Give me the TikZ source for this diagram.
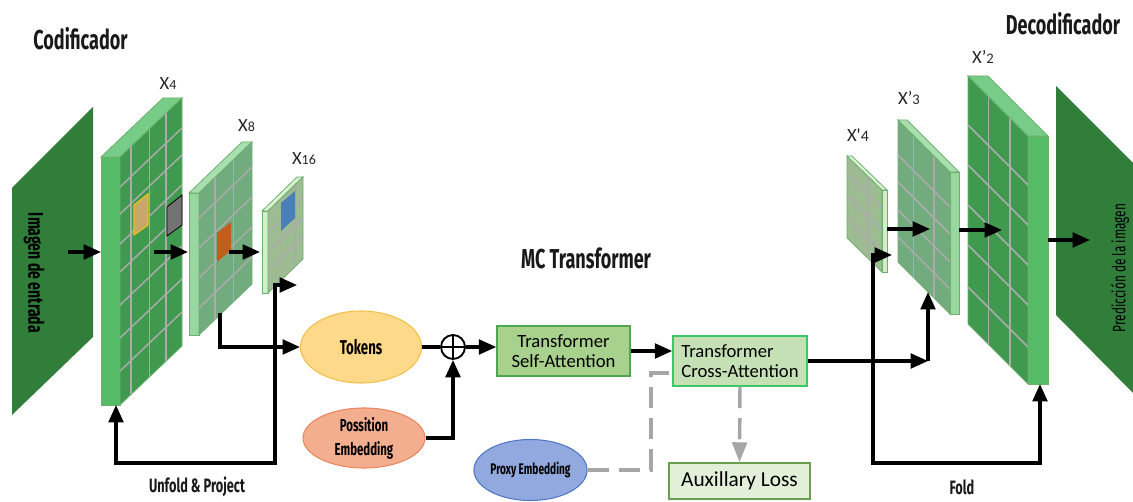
\documentclass[tikz,border=0pt]{standalone}
\usepackage{fontspec}
\setmainfont{Carlito}
\newfontfamily\plaincarlito{Carlito}
\newfontfamily\headfont[FakeStretch=0.66]{Fira Sans}
\usetikzlibrary{arrows.meta,shapes.geometric}

% palette
\definecolor{imggreen}{HTML}{317D3A}
\definecolor{slabAface}{HTML}{3F9A4F}
\definecolor{slabAstrip}{HTML}{55BB66}
\definecolor{slabAtop}{HTML}{77CC88}
\definecolor{slabBface}{HTML}{72AC7E}
\definecolor{slabBstrip}{HTML}{98D8A0}
\definecolor{slabBtop}{HTML}{A9DEB0}
\definecolor{slabCface}{HTML}{9EBC91}
\definecolor{slabCstrip}{HTML}{D3EDC8}
\definecolor{slabCtop}{HTML}{DAF0D2}
\definecolor{slabedge}{HTML}{6BB06B}
\definecolor{gridgray}{HTML}{ABABAB}
\definecolor{patchtan}{HTML}{C9A66B}
\definecolor{patchtanedge}{HTML}{E9C21A}
\definecolor{patchorange}{HTML}{C25E1C}
\definecolor{patchblue}{HTML}{4A7FB8}
\definecolor{tokfill}{HTML}{FFD98A}
\definecolor{tokedge}{HTML}{F2C04A}
\definecolor{posfill}{HTML}{F2AE8F}
\definecolor{posedge}{HTML}{E8875E}
\definecolor{proxfill}{HTML}{91A9DE}
\definecolor{proxedge}{HTML}{5276C4}
\definecolor{selffill}{HTML}{A9D18E}
\definecolor{selfedge}{HTML}{4EA64E}
\definecolor{crossfill}{HTML}{C5E0B4}
\definecolor{crossedge}{HTML}{3CC864}
\definecolor{auxfill}{HTML}{E2F0D9}
\definecolor{auxedge}{HTML}{6A9F50}
\definecolor{dashgray}{HTML}{A6A6A6}

\tikzset{
  >={Triangle[length=13pt,width=11pt]},
  conn/.style={line width=2.3pt,black},
  gridline/.style={gridgray,line width=1.1pt},
  slabline/.style={line width=0.6pt},
  dashconn/.style={dashgray,line width=2.6pt,dash pattern=on 16pt off 7.5pt},
  ovalbox/.style={ellipse,draw,line width=0.8pt,inner sep=0pt,font=\headfont\bfseries},
  stagebox/.style={rectangle,draw,line width=1.1pt,inner sep=0pt},
  heading/.style={font=\headfont\bfseries\fontsize{20.5}{22}\selectfont,text=black!90},
  caption/.style={font=\headfont\bfseries\fontsize{14.5}{16}\selectfont,text=black!90},
  maplabel/.style={font=\fontsize{14}{15}\selectfont,text=black!85,inner sep=0pt},
}

% encoder slab: thin strip on the left, grid face leaning up to the right
% #1 strip left x, #2 face left x, #3 face right x, #4 top y, #5 bottom y,
% #6 rise of the face, #7 colour set, #8 column fractions, #9 row offsets
\newcommand\encslab[9]{%
  \filldraw[slab#7strip,draw=slabedge,slabline] (#1,#4) rectangle (#2,#5);
  \filldraw[slab#7top,draw=slabedge,slabline] (#1,#4) -- ({#3-(#2-#1)},{#4-#6}) -- (#3,{#4-#6}) -- (#2,#4) -- cycle;
  \filldraw[slab#7face,draw=slabedge,slabline] (#2,#4) -- (#3,{#4-#6}) -- (#3,{#5-#6}) -- (#2,#5) -- cycle;
  \foreach \f in {#8} \draw[gridline] ({#2+\f*(#3-#2)},{#4-#6*\f}) -- ({#2+\f*(#3-#2)},{#5-#6*\f});
  \foreach \s in {#9} \draw[gridline] (#2,{#4+\s}) -- (#3,{#4-#6+\s});
}
% decoder slab: grid face leaning down to the right, thin strip on the right
% #1 face left x, #2 face right x, #3 strip right x, #4 top y, #5 bottom y,
% #6 drop of the face, #7 colour set, #8 column fractions, #9 row offsets
\newcommand\decslab[9]{%
  \filldraw[slab#7face,draw=slabedge,slabline] (#1,#4) -- (#2,{#4+#6}) -- (#2,{#5+#6}) -- (#1,#5) -- cycle;
  \foreach \f in {#8} \draw[gridline] ({#1+\f*(#2-#1)},{#4+#6*\f}) -- ({#1+\f*(#2-#1)},{#5+#6*\f});
  \foreach \s in {#9} \draw[gridline] (#1,{#4+\s}) -- (#2,{#4+#6+\s});
  \filldraw[slab#7strip,draw=slabedge,slabline] (#2,{#4+#6}) rectangle (#3,{#5+#6});
  \filldraw[slab#7top,draw=slabedge,slabline] (#1,#4) -- ({#1+#3-#2},#4) -- (#3,{#4+#6}) -- (#2,{#4+#6}) -- cycle;
}

\begin{document}
\begin{tikzpicture}[x=0.75pt,y=-0.75pt]
\useasboundingbox (0,0) rectangle (1133,502);

% ---------- headings ----------
\node[heading] (enctitle) at (80.5,39) {Codificador};
\node[heading] (dectitle) at (1063,24) {Decodificador};
\node[heading] (mctitle) at (586,258) {MC Transformer};

% ---------- input image ----------
\fill[imggreen] (12,188) -- (93,107) -- (93,337) -- (12,415) -- cycle;
\node[rotate=-90,font=\headfont\bfseries\fontsize{16}{18}\selectfont] (inlabel) at (34,273) {Imagen de entrada};

% ---------- encoder feature maps ----------
\encslab{101}{120}{182}{157}{405}{59}{A}{0.18,0.48,0.74}{30,57,87,115,148,181,214}
\filldraw[fill=patchtan,draw=patchtanedge,line width=0.9pt] (134,205) -- (148,194) -- (148,225) -- (134,235) -- cycle;
\filldraw[fill=black!55,draw=black,line width=0.6pt] (167,207) -- (182,195) -- (182,225) -- (167,236) -- cycle;

\encslab{189}{199}{252}{193}{335}{51}{B}{0.3,0.65}{25,55,85,115}
\fill[patchorange] (217,233) -- (231,222) -- (231,250) -- (217,262) -- cycle;

\encslab{262}{268}{303}{211}{293}{34}{C}{0.38,0.77}{21,41,60}
\fill[patchblue] (281,203) -- (295,191) -- (295,218) -- (281,231) -- cycle;

\node[maplabel] (lx4) at (168,84) {X{\fontsize{10.5}{11}\selectfont 4}};
\node[maplabel] (lx8) at (246.5,126) {X{\fontsize{10.5}{11}\selectfont 8}};
\node[maplabel] (lx16) at (304,158.5) {X{\fontsize{10.5}{11}\selectfont 16}};

% ---------- decoder feature maps ----------
\decslab{847}{882}{887}{156}{238}{34}{C}{0.25,0.6}{18,40,62}
\decslab{898}{950}{959}{120}{262}{52}{B}{0.3,0.69}{35,62,90,117}
\decslab{968}{1028}{1048}{76}{324}{60}{A}{0.34,0.70}{49,89,129,169,211}

\node[maplabel] (lxp4) at (858,135) {X{\plaincarlito'}{\fontsize{12}{13}\selectfont 4}};
\node[maplabel] (lxp3) at (909,98) {X’{\fontsize{11}{12}\selectfont 3}};
\node[maplabel] (lxp2) at (983,57) {X’{\fontsize{11}{12}\selectfont 2}};

% ---------- output image ----------
\fill[imggreen] (1056,86) -- (1133,163) -- (1133,393) -- (1056,315) -- cycle;
\node[rotate=90,font=\headfont\fontsize{13.5}{15}\selectfont] (outlabel) at (1120,268) {Predicción de la imagen};

% ---------- transformer blocks ----------
\node[ovalbox,fill=tokfill,draw=tokedge,minimum width=90.75pt,minimum height=54pt,
      font=\headfont\bfseries\fontsize{15}{17}\selectfont] (tokens) at (361,347) {Tokens};
\node[ovalbox,fill=posfill,draw=posedge,minimum width=91.5pt,minimum height=45pt,align=center,
      font=\headfont\bfseries\fontsize{13}{18}\selectfont] (posemb) at (364,438) {Possition\\Embedding};
\node[ovalbox,fill=proxfill,draw=proxedge,minimum width=83.25pt,minimum height=45.75pt,
      font=\headfont\bfseries\fontsize{11.5}{13}\selectfont] (proxy) at (530.5,470) {Proxy Embedding};
\node[circle,draw,line width=1.4pt,minimum size=18pt,inner sep=0pt] (plus) at (453,347) {};
\draw[line width=0.8pt] (plus.north) -- (plus.south) (plus.west) -- (plus.east);

\node[stagebox,fill=selffill,draw=selfedge,minimum width=99.75pt,minimum height=37.5pt,align=center,
      font=\fontsize{14}{15}\selectfont] (selfatt) at (563.5,351) {Transformer\\Self-Attention};
\node[stagebox,fill=crossfill,draw=crossedge,minimum width=100.5pt,minimum height=37.5pt,align=left,
      font=\fontsize{14}{15}\selectfont] (crossatt) at (740,361) {Transformer\\Cross-Attention};
\node[stagebox,fill=auxfill,draw=auxedge,minimum width=105.75pt,minimum height=27pt,
      font=\fontsize{16}{18}\selectfont] (auxloss) at (739.5,481) {Auxillary Loss};

% ---------- connection points on the maps ----------
\coordinate (inout) at (68,252);
\coordinate (x4in) at (101,252);
\coordinate (x4out) at (154,252);
\coordinate (x8in) at (188,252);
\coordinate (x8out) at (229,252);
\coordinate (x16in) at (260,252);
\coordinate (x8bot) at (220,313);
\coordinate (x16side) at (297,285);
\coordinate (x4bot) at (116,405);
\coordinate (unfoldc) at (275,463);
\coordinate (xp4out) at (887,229);
\coordinate (xp3in) at (930,229);
\coordinate (xp3out) at (959,230);
\coordinate (xp2in) at (1002,230);
\coordinate (xp2out) at (1048,240);
\coordinate (outin) at (1090,240);
\coordinate (xp3c) at (928,361);
\coordinate (xp3bot) at (928,292);
\coordinate (xp4side) at (892,255);
\coordinate (foldc) at (873,463);
\coordinate (xp2bot) at (1040,384);
\coordinate (proxyc) at (651,373);

% ---------- connectors ----------
\draw[conn,->] (inout) -- (x4in);
\draw[conn,->] (x4out) -- (x8in);
\draw[conn,->] (x8out) -- (x16in);
\draw[conn,->] (x8bot) |- (tokens.west);
\draw[conn,<->] (x4bot) |- (unfoldc) |- (x16side);
\draw[conn] (tokens.east) -- (plus.west);
\draw[conn,->] (posemb.east) -| (plus.south);
\draw[conn,->] (plus.east) -- (plus.east -| selfatt.west);
\draw[conn,->] (selfatt.east) -- (selfatt.east -| crossatt.west);
\draw[conn,->] (crossatt.east) -- (xp3c);
\draw[conn,->] (xp3c) -- (xp3bot);
\draw[conn,<->] (xp4side) -| (foldc) -| (xp2bot);
\draw[conn,->] (xp4out) -- (xp3in);
\draw[conn,->] (xp3out) -- (xp2in);
\draw[conn,->] (xp2out) -- (outin);
\draw[dashconn] (proxy.east) -| (proxyc) -- (proxyc -| crossatt.west);
\draw[dashconn,-{Triangle[length=15pt,width=11pt]}] (crossatt.south) -- (auxloss.north);

% ---------- captions ----------
\node[caption] (unfoldlabel) at (197,487) {Unfold \& Project};
\node[caption] (foldlabel) at (962,487) {Fold};
\end{tikzpicture}
\end{document}
